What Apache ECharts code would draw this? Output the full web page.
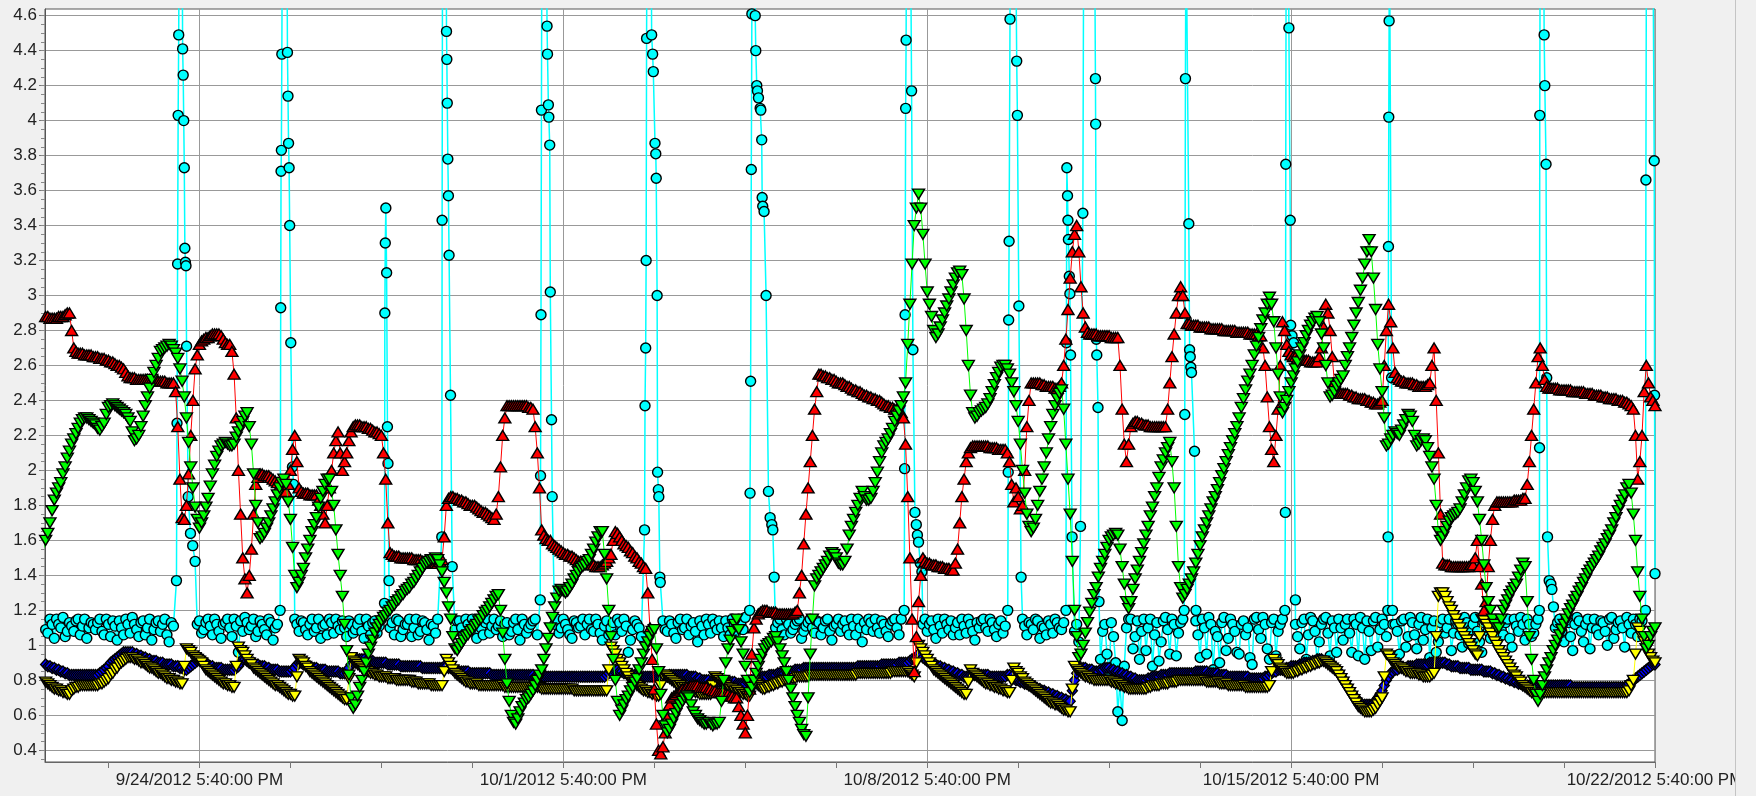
<!DOCTYPE html>
<html>
<head>
<meta charset="utf-8">
<script src="https://cdn.jsdelivr.net/npm/echarts@6/dist/echarts.min.js"></script>
<style>
  html, body { margin: 0; padding: 0; width: 1756px; height: 796px; overflow: hidden; background: #f0f0f0; }
  #chart { position: absolute; left: 0; top: 0; width: 1735px; height: 796px; border-right: 1px solid #c4c4c4; }
</style>
</head>
<body>
<div id="chart"></div>
<script>
// Hour 0 of the x axis is 9/24/2012 5:40 PM; readings are hourly from 9/21/2012 5:40 PM.
const BASE_TIME = Date.UTC(2012, 8, 24, 17, 40);
const FIRST_HOUR = -72;
const STEP_HOURS = 1;

const X_MIN = -71.3, X_MAX = 672;
const Y_MIN = 0.333, Y_MAX = 4.638;

const xLabelHours = [0, 168, 336, 504, 672];
const xTickHours = [-42, 0, 42, 84, 126, 168, 210, 252, 294, 336, 378, 420, 462, 504, 546, 588, 630, 672];
const yLabelValues = [0.4, 0.6, 0.8, 1, 1.2, 1.4, 1.6, 1.8, 2, 2.2, 2.4, 2.6, 2.8, 3, 3.2, 3.4, 3.6, 3.8, 4, 4.2, 4.4, 4.6];

// one row per day, 24 hourly readings each
const redValues = [
  2.88,2.88,2.88,2.87,2.87,2.87,2.87,2.88,2.88,2.88,2.89,2.9,2.9,2.8,2.7,2.68,2.67,2.67,2.67,2.66,2.66,2.66,2.66,2.65,
  2.65,2.65,2.64,2.64,2.64,2.63,2.63,2.62,2.62,2.61,2.6,2.6,2.59,2.58,2.56,2.54,2.53,2.53,2.53,2.52,2.52,2.52,2.52,2.52,
  2.52,2.52,2.52,2.52,2.52,2.51,2.51,2.51,2.51,2.5,2.5,2.5,2.5,2.45,2.25,1.95,1.73,1.72,1.8,1.98,2.2,2.4,2.58,2.66,
  2.72,2.74,2.75,2.76,2.76,2.77,2.78,2.78,2.78,2.78,2.77,2.75,2.73,2.72,2.72,2.68,2.55,2.3,2.0,1.75,1.5,1.38,1.3,1.4,
  1.55,1.75,1.92,1.96,1.98,1.98,1.97,1.97,1.97,1.96,1.95,1.94,1.93,1.91,1.9,1.89,1.88,1.92,2.0,2.12,2.2,2.05,1.9,1.88,
  1.87,1.87,1.87,1.86,1.86,1.86,1.86,1.83,1.8,1.75,1.7,1.8,1.9,2.0,2.1,2.17,2.22,2.1,2.0,2.05,2.1,2.17,2.22,2.25,
  2.26,2.26,2.26,2.25,2.25,2.25,2.24,2.24,2.23,2.22,2.22,2.21,2.2,2.1,1.95,1.7,1.53,1.52,1.51,1.51,1.51,1.5,1.5,1.5,
  1.5,1.5,1.5,1.49,1.49,1.49,1.49,1.48,1.48,1.48,1.47,1.47,1.47,1.47,1.47,1.48,1.49,1.62,1.8,1.84,1.85,1.85,1.84,1.84,
  1.83,1.83,1.82,1.82,1.81,1.8,1.8,1.8,1.79,1.78,1.77,1.76,1.76,1.75,1.74,1.73,1.72,1.75,1.85,2.02,2.2,2.3,2.37,2.37,
  2.37,2.37,2.37,2.37,2.37,2.37,2.37,2.37,2.36,2.36,2.35,2.25,2.1,1.9,1.66,1.63,1.61,1.6,1.6,1.58,1.57,1.56,1.55,1.54,
  1.53,1.52,1.52,1.51,1.51,1.5,1.49,1.48,1.48,1.47,1.47,1.47,1.47,1.46,1.46,1.45,1.45,1.45,1.46,1.47,1.48,1.5,1.52,1.6,
  1.65,1.64,1.62,1.6,1.58,1.57,1.56,1.54,1.53,1.51,1.5,1.48,1.47,1.45,1.44,1.3,1.1,0.92,0.75,0.55,0.4,0.38,0.42,0.5,
  0.6,0.66,0.7,0.71,0.72,0.73,0.74,0.75,0.75,0.76,0.76,0.77,0.77,0.77,0.77,0.76,0.76,0.76,0.76,0.75,0.75,0.74,0.74,0.73,
  0.73,0.73,0.73,0.72,0.72,0.71,0.71,0.7,0.7,0.65,0.6,0.55,0.5,0.6,0.75,0.95,1.1,1.15,1.18,1.19,1.2,1.2,1.2,1.19,
  1.19,1.19,1.19,1.18,1.18,1.18,1.18,1.18,1.18,1.18,1.18,1.19,1.2,1.3,1.4,1.58,1.75,1.9,2.05,2.2,2.35,2.45,2.55,2.55,
  2.54,2.54,2.53,2.53,2.52,2.52,2.51,2.5,2.5,2.5,2.49,2.48,2.48,2.47,2.46,2.46,2.45,2.45,2.44,2.43,2.43,2.42,2.42,2.41,
  2.41,2.4,2.4,2.39,2.38,2.37,2.37,2.36,2.36,2.35,2.35,2.34,2.33,2.3,2.15,1.85,1.5,1.15,0.85,1.05,1.25,1.4,1.5,1.48,
  1.47,1.47,1.46,1.46,1.46,1.45,1.45,1.45,1.44,1.44,1.44,1.43,1.43,1.47,1.55,1.7,1.85,1.95,2.05,2.1,2.13,2.14,2.14,2.14,
  2.14,2.14,2.14,2.14,2.14,2.13,2.13,2.13,2.13,2.12,2.12,2.12,2.12,2.1,2.05,1.92,1.82,1.9,1.85,1.78,1.8,2.0,2.25,2.4,
  2.5,2.5,2.5,2.5,2.5,2.49,2.49,2.48,2.48,2.48,2.48,2.47,2.47,2.48,2.5,2.6,2.75,2.92,3.1,3.25,3.35,3.4,3.25,3.05,
  2.9,2.82,2.79,2.78,2.78,2.78,2.78,2.77,2.77,2.77,2.77,2.77,2.77,2.76,2.76,2.76,2.76,2.6,2.35,2.15,2.05,2.15,2.25,2.27,
  2.28,2.28,2.27,2.27,2.26,2.26,2.26,2.25,2.25,2.25,2.25,2.25,2.25,2.25,2.25,2.35,2.5,2.65,2.78,2.9,3.0,3.05,3.0,2.9,
  2.84,2.84,2.83,2.83,2.83,2.83,2.82,2.82,2.82,2.82,2.82,2.81,2.81,2.81,2.81,2.81,2.81,2.8,2.8,2.8,2.8,2.8,2.8,2.79,
  2.79,2.79,2.79,2.79,2.79,2.78,2.78,2.78,2.78,2.77,2.77,2.7,2.6,2.42,2.25,2.12,2.05,2.2,2.35,2.6,2.85,2.8,2.72,2.68,
  2.66,2.65,2.65,2.64,2.64,2.63,2.63,2.63,2.63,2.62,2.62,2.62,2.62,2.65,2.7,2.82,2.95,2.9,2.8,2.65,2.5,2.46,2.45,2.44,
  2.44,2.44,2.44,2.43,2.43,2.42,2.42,2.41,2.41,2.41,2.41,2.4,2.4,2.39,2.39,2.38,2.38,2.39,2.4,2.6,2.8,2.95,2.85,2.7,
  2.56,2.53,2.52,2.51,2.51,2.5,2.5,2.5,2.5,2.49,2.49,2.48,2.48,2.48,2.48,2.49,2.5,2.6,2.7,2.4,2.1,1.75,1.47,1.46,
  1.46,1.46,1.45,1.45,1.45,1.45,1.45,1.45,1.45,1.45,1.45,1.46,1.46,1.5,1.6,1.45,1.35,1.2,1.25,1.45,1.6,1.72,1.8,1.82,
  1.82,1.82,1.82,1.82,1.82,1.82,1.82,1.83,1.83,1.83,1.83,1.84,1.84,1.92,2.05,2.2,2.35,2.5,2.65,2.7,2.6,2.52,2.48,2.47,
  2.47,2.47,2.47,2.47,2.46,2.46,2.46,2.46,2.46,2.46,2.45,2.45,2.45,2.45,2.45,2.45,2.44,2.44,2.44,2.44,2.43,2.43,2.43,2.43,
  2.42,2.42,2.42,2.41,2.41,2.41,2.41,2.4,2.4,2.4,2.39,2.39,2.38,2.37,2.35,2.2,1.95,2.05,2.2,2.45,2.6,2.5,2.42,2.4,
  2.37
];

const greenValues = [
  1.55,1.6,1.64,1.7,1.77,1.83,1.87,1.9,1.93,1.98,2.02,2.07,2.11,2.15,2.18,2.21,2.24,2.27,2.29,2.3,2.3,2.29,2.28,2.27,
  2.26,2.24,2.23,2.25,2.27,2.32,2.36,2.37,2.38,2.37,2.36,2.35,2.34,2.33,2.32,2.3,2.28,2.22,2.17,2.18,2.2,2.25,2.31,2.37,
  2.42,2.47,2.52,2.56,2.6,2.64,2.68,2.69,2.7,2.71,2.72,2.71,2.69,2.67,2.64,2.58,2.51,2.42,2.3,2.16,2.02,1.9,1.79,1.72,
  1.67,1.7,1.74,1.79,1.84,1.91,1.98,2.03,2.08,2.11,2.14,2.15,2.16,2.15,2.14,2.14,2.15,2.19,2.22,2.25,2.28,2.31,2.33,2.25,
  2.15,1.98,1.8,1.7,1.61,1.62,1.64,1.67,1.7,1.74,1.78,1.82,1.86,1.9,1.93,1.95,1.92,1.82,1.72,1.56,1.4,1.33,1.36,1.4,
  1.44,1.5,1.55,1.6,1.65,1.69,1.73,1.79,1.84,1.88,1.92,1.95,1.95,1.88,1.8,1.66,1.52,1.4,1.28,1.12,0.97,0.83,0.7,0.64,
  0.66,0.71,0.76,0.8,0.85,0.9,0.95,0.99,1.03,1.07,1.1,1.12,1.14,1.16,1.17,1.19,1.2,1.22,1.23,1.25,1.26,1.28,1.29,1.31,
  1.32,1.33,1.35,1.36,1.38,1.4,1.42,1.44,1.46,1.47,1.48,1.49,1.49,1.5,1.49,1.46,1.42,1.36,1.3,1.22,1.15,1.05,0.98,0.97,
  0.99,1.01,1.03,1.05,1.06,1.08,1.09,1.11,1.12,1.14,1.15,1.17,1.19,1.2,1.22,1.24,1.26,1.28,1.29,1.2,1.07,0.92,0.78,0.68,
  0.6,0.56,0.55,0.58,0.62,0.65,0.67,0.69,0.7,0.72,0.74,0.77,0.8,0.83,0.86,0.92,0.98,1.04,1.1,1.16,1.22,1.27,1.31,1.32,
  1.31,1.3,1.31,1.33,1.35,1.38,1.4,1.42,1.44,1.45,1.46,1.48,1.49,1.52,1.55,1.59,1.62,1.65,1.65,1.52,1.38,1.2,1.05,0.92,
  0.8,0.68,0.6,0.63,0.66,0.69,0.71,0.74,0.76,0.79,0.81,0.86,0.9,0.95,0.99,1.02,1.05,1.08,1.09,0.98,0.85,0.72,0.6,0.54,
  0.5,0.52,0.55,0.58,0.61,0.64,0.66,0.68,0.7,0.71,0.7,0.66,0.62,0.6,0.58,0.57,0.56,0.55,0.55,0.56,0.55,0.54,0.55,0.55,
  0.56,0.68,0.8,0.9,0.98,1.03,1.08,1.12,1.15,1.09,1.02,0.95,0.88,0.8,0.73,0.76,0.8,0.84,0.88,0.92,0.95,0.98,1.0,1.01,
  1.02,1.04,1.05,1.02,0.98,0.94,0.9,0.85,0.8,0.75,0.7,0.65,0.6,0.56,0.52,0.49,0.48,0.7,0.95,1.15,1.34,1.38,1.4,1.42,
  1.44,1.46,1.48,1.51,1.53,1.52,1.5,1.47,1.46,1.46,1.48,1.55,1.63,1.68,1.72,1.76,1.8,1.84,1.88,1.85,1.83,1.83,1.84,1.88,
  1.93,1.99,2.05,2.1,2.14,2.16,2.18,2.21,2.24,2.28,2.31,2.34,2.37,2.42,2.5,2.72,2.95,3.18,3.4,3.5,3.58,3.5,3.35,3.18,
  3.02,2.95,2.88,2.8,2.76,2.78,2.82,2.86,2.9,2.94,2.98,3.02,3.06,3.1,3.13,3.14,3.12,2.98,2.8,2.6,2.43,2.33,2.3,2.31,
  2.33,2.34,2.35,2.36,2.38,2.41,2.45,2.49,2.53,2.56,2.59,2.6,2.6,2.58,2.55,2.5,2.45,2.37,2.28,2.15,2.0,1.87,1.75,1.68,
  1.65,1.67,1.72,1.8,1.88,1.95,2.02,2.1,2.18,2.25,2.32,2.37,2.41,2.44,2.46,2.35,2.15,1.95,1.75,1.48,1.2,1.05,0.93,0.95,
  1.0,1.07,1.13,1.19,1.24,1.29,1.33,1.39,1.44,1.48,1.52,1.56,1.6,1.62,1.63,1.64,1.63,1.55,1.45,1.35,1.25,1.21,1.25,1.32,
  1.38,1.43,1.48,1.53,1.58,1.63,1.68,1.74,1.79,1.85,1.9,1.96,2.02,2.06,2.1,2.13,2.16,2.05,1.9,1.68,1.45,1.33,1.27,1.29,
  1.32,1.35,1.38,1.42,1.47,1.52,1.57,1.62,1.66,1.7,1.74,1.78,1.82,1.85,1.89,1.93,1.97,2.01,2.05,2.09,2.13,2.17,2.21,2.25,
  2.3,2.36,2.41,2.46,2.51,2.55,2.6,2.66,2.71,2.76,2.81,2.86,2.9,2.95,2.99,2.95,2.85,2.7,2.55,2.42,2.33,2.36,2.4,2.45,
  2.5,2.54,2.58,2.62,2.66,2.7,2.73,2.77,2.8,2.83,2.85,2.87,2.88,2.85,2.78,2.7,2.6,2.5,2.42,2.43,2.45,2.48,2.5,2.52,
  2.54,2.6,2.65,2.7,2.76,2.83,2.9,2.96,3.03,3.1,3.18,3.25,3.32,3.25,3.1,2.92,2.72,2.58,2.45,2.3,2.14,2.15,2.18,2.2,
  2.22,2.21,2.2,2.23,2.26,2.29,2.32,2.31,2.28,2.2,2.14,2.15,2.17,2.18,2.17,2.13,2.08,2.02,1.95,1.8,1.65,1.6,1.62,1.65,
  1.68,1.71,1.73,1.74,1.75,1.76,1.78,1.82,1.86,1.9,1.94,1.95,1.93,1.88,1.82,1.72,1.6,1.46,1.33,1.25,1.2,1.15,1.12,1.1,
  1.1,1.15,1.2,1.23,1.26,1.29,1.31,1.33,1.35,1.39,1.43,1.47,1.45,1.25,1.05,0.92,0.8,0.72,0.68,0.72,0.77,0.82,0.86,0.9,
  0.93,0.97,1.0,1.03,1.06,1.09,1.12,1.15,1.18,1.21,1.23,1.26,1.28,1.31,1.33,1.36,1.38,1.41,1.43,1.45,1.47,1.49,1.51,1.54,
  1.56,1.58,1.61,1.63,1.66,1.7,1.73,1.77,1.8,1.83,1.86,1.9,1.92,1.87,1.75,1.6,1.42,1.28,1.15,1.05,0.98,1.0,1.05,1.08,
  1.1
];

const blueValues = [
  0.89,0.89,0.88,0.88,0.87,0.87,0.86,0.86,0.85,0.85,0.84,0.84,0.83,0.83,0.83,0.83,0.83,0.83,0.83,0.83,0.83,0.83,0.83,0.83,
  0.83,0.83,0.84,0.85,0.86,0.87,0.88,0.9,0.91,0.92,0.93,0.94,0.95,0.96,0.96,0.96,0.96,0.96,0.95,0.95,0.94,0.94,0.93,0.93,
  0.92,0.92,0.91,0.91,0.91,0.9,0.9,0.9,0.89,0.89,0.89,0.89,0.88,0.88,0.88,0.87,0.87,0.86,0.86,0.87,0.88,0.89,0.9,0.91,
  0.92,0.92,0.91,0.9,0.89,0.88,0.88,0.87,0.87,0.87,0.87,0.86,0.86,0.86,0.86,0.86,0.86,0.87,0.88,0.9,0.92,0.92,0.91,0.9,
  0.9,0.9,0.89,0.89,0.88,0.88,0.88,0.87,0.87,0.86,0.86,0.86,0.86,0.85,0.85,0.85,0.85,0.85,0.85,0.86,0.87,0.89,0.9,0.9,
  0.89,0.89,0.88,0.88,0.87,0.87,0.87,0.86,0.86,0.86,0.86,0.85,0.85,0.85,0.85,0.85,0.85,0.84,0.84,0.84,0.85,0.87,0.89,0.9,
  0.91,0.92,0.92,0.92,0.92,0.91,0.91,0.91,0.91,0.9,0.9,0.9,0.9,0.9,0.9,0.89,0.89,0.89,0.89,0.89,0.89,0.88,0.88,0.88,
  0.88,0.88,0.88,0.88,0.88,0.88,0.88,0.87,0.87,0.87,0.87,0.87,0.87,0.87,0.87,0.87,0.87,0.88,0.88,0.87,0.87,0.86,0.86,0.85,
  0.85,0.85,0.85,0.85,0.85,0.84,0.84,0.84,0.84,0.84,0.84,0.84,0.84,0.84,0.84,0.83,0.83,0.83,0.83,0.83,0.83,0.83,0.83,0.83,
  0.83,0.83,0.83,0.83,0.83,0.83,0.83,0.83,0.83,0.83,0.83,0.82,0.82,0.82,0.82,0.82,0.82,0.82,0.82,0.82,0.82,0.82,0.82,0.82,
  0.82,0.82,0.82,0.82,0.82,0.82,0.82,0.82,0.82,0.82,0.82,0.82,0.82,0.82,0.82,0.82,0.82,0.82,0.82,0.82,0.83,0.84,0.85,0.86,
  0.86,0.86,0.85,0.85,0.84,0.84,0.83,0.83,0.83,0.83,0.83,0.83,0.82,0.82,0.82,0.82,0.82,0.82,0.82,0.82,0.82,0.82,0.82,0.82,
  0.82,0.83,0.83,0.83,0.83,0.83,0.83,0.83,0.83,0.83,0.82,0.82,0.82,0.82,0.81,0.81,0.8,0.8,0.8,0.8,0.79,0.79,0.79,0.79,
  0.79,0.79,0.79,0.79,0.79,0.79,0.79,0.79,0.78,0.78,0.78,0.78,0.78,0.79,0.79,0.8,0.8,0.81,0.81,0.82,0.82,0.82,0.82,0.83,
  0.83,0.83,0.83,0.84,0.84,0.84,0.84,0.85,0.85,0.85,0.85,0.86,0.86,0.86,0.86,0.87,0.87,0.87,0.87,0.87,0.87,0.87,0.87,0.87,
  0.87,0.87,0.87,0.87,0.87,0.87,0.87,0.87,0.87,0.87,0.87,0.87,0.87,0.87,0.87,0.87,0.88,0.88,0.88,0.88,0.88,0.88,0.88,0.88,
  0.88,0.88,0.88,0.89,0.89,0.89,0.89,0.89,0.89,0.89,0.89,0.9,0.9,0.9,0.9,0.9,0.91,0.92,0.92,0.93,0.95,0.94,0.93,0.92,
  0.91,0.9,0.9,0.89,0.89,0.88,0.88,0.87,0.87,0.86,0.86,0.85,0.85,0.84,0.84,0.83,0.83,0.82,0.82,0.82,0.83,0.83,0.83,0.83,
  0.83,0.83,0.83,0.83,0.83,0.82,0.82,0.82,0.82,0.82,0.82,0.82,0.82,0.83,0.83,0.82,0.81,0.8,0.8,0.79,0.79,0.78,0.78,0.77,
  0.77,0.76,0.76,0.75,0.75,0.74,0.74,0.73,0.73,0.72,0.72,0.71,0.71,0.7,0.7,0.69,0.69,0.68,0.68,0.74,0.8,0.84,0.86,0.87,
  0.87,0.87,0.86,0.86,0.86,0.85,0.85,0.85,0.86,0.86,0.87,0.87,0.87,0.86,0.86,0.85,0.85,0.84,0.84,0.83,0.83,0.82,0.82,0.81,
  0.81,0.8,0.8,0.8,0.8,0.8,0.81,0.81,0.82,0.82,0.82,0.82,0.83,0.83,0.83,0.83,0.84,0.84,0.84,0.84,0.84,0.84,0.84,0.84,
  0.84,0.84,0.84,0.84,0.85,0.85,0.85,0.85,0.85,0.85,0.84,0.84,0.84,0.84,0.84,0.83,0.83,0.83,0.83,0.82,0.82,0.82,0.82,0.82,
  0.82,0.82,0.82,0.82,0.82,0.81,0.81,0.81,0.81,0.81,0.81,0.81,0.82,0.82,0.83,0.84,0.85,0.85,0.86,0.86,0.86,0.86,0.87,0.87,
  0.88,0.88,0.88,0.88,0.89,0.89,0.9,0.9,0.9,0.9,0.91,0.91,0.92,0.92,0.92,0.91,0.91,0.9,0.9,0.89,0.88,0.86,0.85,0.83,
  0.81,0.79,0.77,0.75,0.73,0.71,0.7,0.68,0.67,0.66,0.66,0.66,0.66,0.66,0.67,0.68,0.7,0.72,0.74,0.77,0.8,0.82,0.84,0.85,
  0.86,0.86,0.87,0.87,0.87,0.87,0.88,0.88,0.88,0.88,0.89,0.89,0.89,0.89,0.89,0.89,0.9,0.9,0.9,0.9,0.9,0.9,0.9,0.9,
  0.89,0.89,0.88,0.88,0.88,0.88,0.87,0.87,0.87,0.87,0.87,0.86,0.86,0.86,0.86,0.86,0.86,0.85,0.85,0.85,0.85,0.84,0.84,0.83,
  0.83,0.82,0.82,0.81,0.81,0.8,0.8,0.79,0.79,0.78,0.78,0.77,0.77,0.77,0.77,0.76,0.76,0.76,0.76,0.76,0.76,0.76,0.77,0.77,
  0.77,0.77,0.77,0.77,0.77,0.77,0.77,0.77,0.77,0.77,0.76,0.76,0.76,0.76,0.76,0.76,0.76,0.76,0.76,0.76,0.76,0.76,0.76,0.76,
  0.76,0.76,0.76,0.76,0.76,0.76,0.76,0.76,0.76,0.76,0.76,0.77,0.78,0.79,0.8,0.81,0.82,0.83,0.84,0.85,0.86,0.87,0.88,0.89,
  0.89
];

const yellowValues = [
  0.8,0.79,0.78,0.77,0.76,0.75,0.75,0.74,0.74,0.73,0.73,0.72,0.72,0.74,0.75,0.76,0.76,0.77,0.77,0.77,0.77,0.77,0.77,0.77,
  0.77,0.77,0.78,0.78,0.79,0.8,0.81,0.83,0.84,0.86,0.87,0.89,0.9,0.91,0.92,0.93,0.93,0.93,0.92,0.92,0.91,0.9,0.9,0.89,
  0.88,0.87,0.87,0.86,0.85,0.84,0.84,0.83,0.82,0.81,0.81,0.8,0.8,0.79,0.79,0.78,0.78,0.88,0.98,0.97,0.96,0.94,0.93,0.92,
  0.91,0.9,0.88,0.86,0.85,0.84,0.83,0.82,0.81,0.8,0.79,0.78,0.78,0.77,0.77,0.76,0.76,0.88,0.99,0.97,0.96,0.94,0.92,0.9,
  0.89,0.87,0.86,0.85,0.84,0.83,0.82,0.81,0.8,0.79,0.78,0.77,0.77,0.76,0.75,0.74,0.73,0.72,0.72,0.71,0.71,0.82,0.92,0.91,
  0.9,0.88,0.87,0.85,0.84,0.83,0.82,0.81,0.8,0.79,0.78,0.77,0.76,0.75,0.74,0.73,0.72,0.71,0.7,0.69,0.69,0.81,0.93,0.91,
  0.9,0.89,0.88,0.87,0.86,0.85,0.85,0.84,0.84,0.83,0.83,0.82,0.82,0.82,0.82,0.81,0.81,0.81,0.81,0.8,0.8,0.8,0.8,0.8,
  0.8,0.8,0.79,0.79,0.79,0.78,0.78,0.78,0.78,0.78,0.78,0.77,0.77,0.77,0.77,0.77,0.77,0.85,0.92,0.9,0.88,0.86,0.84,0.83,
  0.82,0.81,0.8,0.79,0.79,0.78,0.78,0.78,0.78,0.77,0.77,0.77,0.77,0.77,0.77,0.77,0.77,0.77,0.77,0.77,0.77,0.76,0.76,0.76,
  0.76,0.76,0.76,0.76,0.76,0.76,0.76,0.76,0.76,0.76,0.76,0.76,0.76,0.76,0.75,0.75,0.75,0.75,0.75,0.75,0.75,0.75,0.75,0.75,
  0.75,0.75,0.75,0.75,0.75,0.74,0.74,0.74,0.74,0.74,0.74,0.74,0.74,0.74,0.74,0.74,0.74,0.74,0.74,0.74,0.74,0.86,0.99,0.97,
  0.95,0.92,0.9,0.88,0.86,0.84,0.82,0.8,0.79,0.78,0.77,0.76,0.75,0.74,0.74,0.73,0.73,0.72,0.72,0.71,0.71,0.77,0.83,0.83,
  0.82,0.81,0.8,0.79,0.78,0.77,0.77,0.76,0.76,0.75,0.75,0.74,0.74,0.73,0.73,0.72,0.72,0.72,0.72,0.72,0.72,0.77,0.82,0.81,
  0.8,0.79,0.78,0.77,0.76,0.75,0.75,0.74,0.74,0.73,0.73,0.72,0.72,0.71,0.71,0.76,0.8,0.78,0.77,0.76,0.75,0.75,0.76,0.76,
  0.77,0.77,0.78,0.78,0.79,0.79,0.8,0.8,0.81,0.81,0.81,0.81,0.82,0.82,0.82,0.82,0.82,0.82,0.83,0.83,0.83,0.83,0.83,0.83,
  0.83,0.83,0.83,0.83,0.83,0.83,0.83,0.83,0.83,0.83,0.83,0.83,0.83,0.83,0.83,0.83,0.84,0.84,0.84,0.84,0.84,0.84,0.84,0.84,
  0.84,0.84,0.84,0.84,0.84,0.84,0.84,0.84,0.85,0.85,0.85,0.85,0.85,0.85,0.85,0.85,0.84,0.83,0.82,0.9,1.0,0.98,0.96,0.94,
  0.92,0.9,0.88,0.86,0.85,0.84,0.83,0.82,0.81,0.8,0.79,0.78,0.77,0.76,0.75,0.74,0.73,0.72,0.72,0.79,0.86,0.84,0.83,0.82,
  0.81,0.8,0.79,0.78,0.78,0.77,0.77,0.76,0.76,0.75,0.75,0.74,0.74,0.73,0.73,0.8,0.87,0.85,0.84,0.82,0.81,0.79,0.78,0.77,
  0.76,0.75,0.74,0.73,0.72,0.71,0.7,0.69,0.68,0.67,0.67,0.66,0.66,0.65,0.64,0.63,0.63,0.62,0.62,0.75,0.88,0.86,0.85,0.84,
  0.83,0.82,0.82,0.81,0.81,0.8,0.8,0.8,0.8,0.8,0.8,0.8,0.8,0.79,0.79,0.78,0.78,0.77,0.77,0.76,0.76,0.75,0.75,0.75,
  0.75,0.75,0.75,0.75,0.75,0.75,0.76,0.76,0.77,0.77,0.77,0.77,0.78,0.78,0.78,0.78,0.79,0.79,0.79,0.79,0.8,0.8,0.8,0.8,
  0.8,0.8,0.8,0.8,0.8,0.8,0.8,0.8,0.8,0.79,0.79,0.79,0.79,0.79,0.79,0.78,0.78,0.78,0.78,0.77,0.77,0.77,0.77,0.77,
  0.77,0.77,0.77,0.76,0.76,0.76,0.76,0.76,0.76,0.76,0.76,0.76,0.76,0.76,0.77,0.85,0.92,0.9,0.89,0.87,0.86,0.85,0.84,0.84,
  0.84,0.84,0.85,0.85,0.86,0.86,0.87,0.87,0.88,0.88,0.89,0.89,0.9,0.9,0.91,0.91,0.9,0.89,0.88,0.87,0.86,0.85,0.83,0.81,
  0.79,0.77,0.75,0.73,0.71,0.69,0.67,0.65,0.64,0.63,0.62,0.62,0.62,0.62,0.63,0.64,0.66,0.68,0.7,0.82,0.95,0.94,0.92,0.9,
  0.89,0.88,0.87,0.87,0.86,0.85,0.85,0.84,0.84,0.84,0.84,0.83,0.83,0.82,0.82,0.82,0.82,0.83,0.84,1.05,1.28,1.3,1.3,1.28,
  1.25,1.22,1.2,1.17,1.15,1.12,1.1,1.07,1.05,1.03,1.01,0.99,0.97,0.95,0.94,1.05,1.15,1.14,1.12,1.1,1.07,1.05,1.02,1.0,
  0.97,0.95,0.93,0.91,0.89,0.87,0.85,0.83,0.82,0.8,0.79,0.77,0.76,0.75,0.74,0.73,0.73,0.73,0.73,0.73,0.73,0.73,0.73,0.73,
  0.73,0.73,0.73,0.73,0.73,0.73,0.73,0.73,0.73,0.73,0.73,0.73,0.73,0.73,0.73,0.73,0.73,0.73,0.73,0.73,0.73,0.73,0.73,0.73,
  0.73,0.73,0.73,0.73,0.73,0.73,0.73,0.73,0.73,0.73,0.73,0.73,0.74,0.77,0.8,0.95,1.1,1.08,1.05,1.02,0.98,0.95,0.93,0.91,
  0.9
];

// null where the faster burst readings below cover that stretch
const cyanValues = [
  1.14,1.09,1.07,1.15,1.12,1.04,1.15,1.12,1.10,1.16,1.05,1.08,1.13,1.11,1.08,1.14,1.15,1.06,1.11,1.15,1.04,1.10,1.13,1.12,
  1.09,1.13,1.15,1.08,1.06,1.15,1.12,1.05,1.14,1.11,1.03,1.14,1.10,1.06,1.15,1.12,1.07,1.16,1.12,1.09,1.05,1.13,1.14,1.06,
  1.10,1.15,1.03,1.09,1.13,1.14,1.08,1.12,1.15,1.06,1.02,1.13,1.11,null,null,null,null,null,null,null,null,null,1.48,1.12,
  1.14,1.07,1.09,1.13,1.15,1.11,1.06,1.15,1.12,1.08,1.04,1.12,1.13,1.15,1.10,1.05,1.15,1.11,0.96,1.14,1.08,1.16,1.13,1.09,
  1.11,1.15,1.05,1.08,1.14,1.12,1.09,1.06,1.15,1.13,1.03,1.10,1.12,null,null,null,null,null,null,null,1.15,1.12,1.08,1.14,
  1.13,1.09,1.06,1.12,1.15,1.08,1.10,1.15,1.04,1.11,1.12,1.06,1.15,1.13,1.07,1.15,1.11,1.09,1.14,1.10,1.05,1.14,1.12,1.07,
  1.09,1.12,1.15,1.08,1.04,1.15,1.11,1.06,1.13,1.14,1.07,1.11,1.15,null,null,null,1.10,1.13,1.06,1.15,1.14,1.05,1.09,1.12,
  1.12,1.15,1.05,1.10,1.15,1.06,1.08,1.14,1.13,1.09,1.03,1.12,1.11,1.07,1.15,null,null,null,null,null,null,null,1.09,1.14,
  1.14,1.10,1.06,1.15,1.12,1.08,1.15,1.12,1.04,1.14,1.10,1.06,1.13,1.15,1.07,1.11,1.15,1.09,1.11,1.14,1.05,1.12,1.13,1.06,
  1.08,1.13,1.15,1.09,1.03,1.15,1.12,1.07,1.10,1.12,1.14,1.15,1.06,null,null,null,null,null,null,null,1.12,1.15,1.07,1.10,
  1.15,1.12,1.09,1.06,1.04,1.14,1.13,1.10,1.11,1.15,1.06,1.12,1.15,1.09,1.08,1.15,1.12,1.07,1.03,1.11,1.14,1.06,1.10,1.13,
  1.06,1.15,1.13,1.08,1.15,1.11,0.96,1.03,1.09,1.14,1.12,1.10,1.05,null,null,null,null,null,null,null,null,null,1.14,1.09,
  1.08,1.14,1.12,1.07,1.04,1.13,1.15,1.09,1.10,1.15,1.06,1.11,1.13,1.08,1.02,1.14,1.11,1.06,1.15,1.12,1.07,1.15,1.12,1.09,
  1.14,1.10,1.05,1.14,1.10,1.06,1.15,1.12,1.08,1.15,1.12,1.09,1.16,null,null,null,null,null,null,null,null,null,null,null,
  null,null,1.10,1.13,1.15,1.09,1.06,1.15,1.12,1.07,1.09,1.12,1.14,1.15,1.04,1.08,1.11,1.13,1.15,1.10,1.07,1.14,1.13,1.06,
  1.10,1.14,1.15,1.08,1.03,1.11,1.12,1.15,1.08,1.12,1.14,1.09,1.06,1.15,1.11,1.06,1.15,1.10,1.02,1.13,1.09,1.15,1.13,1.08,
  1.15,1.10,1.07,1.14,1.12,1.08,1.05,1.12,1.14,1.15,1.10,1.06,1.15,null,null,null,null,null,null,null,null,null,1.12,1.15,
  1.08,1.12,1.14,1.09,1.04,1.15,1.11,1.07,1.15,1.12,1.09,1.14,1.06,1.10,1.13,1.06,1.15,1.11,1.07,1.15,1.12,1.08,1.03,1.13,
  1.10,1.14,1.15,1.10,1.08,1.15,1.13,1.09,1.05,1.12,1.14,1.07,1.11,null,null,null,null,null,null,null,1.15,1.11,1.06,1.13,
  1.12,1.09,1.15,1.14,1.04,1.11,1.10,1.06,1.14,1.12,1.07,1.15,1.13,1.10,1.09,1.13,null,null,null,null,1.08,1.12,1.02,null,
  null,null,null,null,null,null,null,null,0.92,1.08,1.12,0.95,0.85,1.13,1.05,0.90,0.62,0.78,0.57,0.88,1.10,1.15,1.15,0.98,
  1.05,1.14,0.92,1.08,1.15,0.97,1.10,1.15,0.88,1.06,1.13,0.91,1.02,1.14,1.16,1.09,0.95,1.15,1.12,0.94,1.07,1.13,1.15,null,
  null,null,null,null,1.14,1.06,0.93,1.15,1.10,0.95,1.16,1.12,0.86,1.08,1.05,0.90,1.13,1.16,0.97,1.04,1.15,1.12,1.08,0.96,
  0.95,1.12,1.14,1.06,1.10,0.93,0.89,1.15,1.16,1.09,1.04,1.16,1.12,0.98,0.92,1.13,1.15,0.94,1.08,1.12,1.15,null,null,null,
  null,null,1.12,1.05,0.98,1.13,1.15,0.92,1.06,1.16,1.14,1.08,0.90,1.02,1.12,1.15,1.16,1.07,0.94,1.14,1.10,0.96,1.15,1.10,
  1.03,1.12,1.15,1.07,0.96,1.15,1.12,0.94,1.16,1.10,0.92,1.14,1.08,0.97,1.14,1.16,0.99,1.09,1.15,1.12,1.05,null,null,1.12,
  1.12,1.08,0.95,1.14,1.15,0.99,1.05,1.16,1.13,1.06,0.98,1.12,1.16,1.03,1.09,1.15,0.93,1.10,1.14,0.96,1.02,1.13,1.15,1.07,
  1.10,1.15,0.97,1.07,1.14,1.12,1.06,0.99,1.16,1.13,1.01,1.09,1.12,1.16,1.08,1.02,0.96,1.13,1.15,1.08,1.04,1.15,1.12,1.06,
  1.14,1.09,1.06,1.13,1.15,1.04,0.99,1.15,1.11,1.08,1.16,1.12,1.03,1.15,1.12,1.05,1.07,1.12,1.15,null,null,null,null,null,
  null,null,1.10,1.13,1.15,1.08,1.02,1.15,1.13,1.05,0.97,1.12,1.16,1.14,1.08,1.02,1.12,1.15,0.98,1.10,1.15,1.09,1.06,1.14,
  1.13,1.08,1.00,1.15,1.16,1.04,1.09,1.13,1.14,1.10,0.99,1.16,1.12,1.07,1.15,1.12,1.05,1.15,1.14,null,null,null,null,null,
  null
];

// short bursts of readings (hour, value); 5.2 lies above the plotted range
const cyanBurstHours = [
  -10.61,-10.35,-10.09,-9.83,-9.57,-9.32,-8.02,-7.76,-7.5,-7.25,-6.99,-6.73,-6.47,-6.21,-5.95,-5.18,-4.14,-3.1,
  37.26,37.52,37.68,37.83,38.04,38.3,40.37,40.63,40.88,41.14,41.4,41.66,42.18,42.95,43.47,
  85.44,85.6,85.8,86.06,86.42,86.79,87.05,87.51,
  111.89,112.04,112.25,113.91,114.06,114.22,114.42,114.68,114.94,115.25,115.92,116.7,
  157.33,157.48,157.69,157.9,158.1,160.17,160.48,160.69,161.1,161.31,161.72,161.98,162.55,162.86,
  205.5,205.71,206.02,206.23,206.44,206.64,208.51,208.77,209.23,209.54,210.32,210.68,210.89,211.3,211.51,211.87,212.08,212.55,212.76,
  254.0,254.2,254.47,254.78,255.04,255.3,256.33,256.59,256.85,257.31,257.62,258.09,258.87,259.18,259.59,259.8,260.06,260.68,261.61,262.7,263.48,264.25,264.72,265.34,
  325.36,325.57,325.78,326.04,326.25,326.45,328.26,328.78,329.4,330.33,330.96,331.47,331.99,332.77,333.54,
  373.18,373.39,373.6,373.8,374.22,374.43,376.75,377.32,377.63,378.31,379.34,
  400.04,400.25,400.46,400.77,400.97,401.18,401.6,401.86,402.17,402.89,406.77,407.86,408.27,413.24,413.66,413.76,414.07,414.28,414.85,415.31,
  454.64,454.9,455.21,455.47,456.3,456.77,457.13,457.44,457.7,458.01,459.41,460.08,
  501.12,501.33,501.53,501.74,502.67,502.98,503.6,503.81,504.43,505.16,505.98,
  548.63,548.78,548.94,549.09,549.25,549.4,550.08,550.39,550.8,
  618.59,618.69,618.8,619.0,620.56,620.82,621.13,621.7,622.01,622.38,623.15,623.93,624.4,625.12,
  667.6,667.8,668.07,670.97,671.64,671.8,672.0
];
const cyanBurstValues = [
  1.37,2.27,3.18,4.03,4.49,5.2,5.2,4.41,4.26,4.0,3.73,3.27,3.19,3.17,2.71,1.85,1.64,1.57,
  1.2,2.93,3.71,3.83,4.38,5.2,5.2,4.39,4.14,3.87,3.73,3.4,2.73,2.02,1.92,
  1.24,2.9,3.3,3.5,3.13,2.25,2.04,1.37,
  1.62,3.43,5.2,5.2,4.51,4.35,4.1,3.78,3.57,3.23,2.43,1.45,
  1.26,1.97,2.89,4.06,5.2,5.2,4.54,4.38,4.09,4.02,3.86,3.02,2.29,1.85,
  1.66,2.37,2.7,3.2,4.47,5.2,5.2,4.49,4.38,4.28,3.87,3.81,3.67,3.0,1.99,1.89,1.85,1.39,1.36,
  1.2,1.87,2.51,3.72,4.61,5.2,5.2,4.6,4.4,4.2,4.17,4.13,4.07,4.06,3.89,3.56,3.51,3.48,3.0,1.88,1.73,1.69,1.66,1.39,
  1.2,2.01,2.89,4.07,4.46,5.2,5.2,4.17,2.69,1.76,1.69,1.63,1.59,1.47,1.42,
  1.2,1.99,2.86,3.31,4.58,5.2,5.2,4.34,4.03,2.94,1.39,
  1.2,2.73,3.73,3.57,3.43,3.32,3.11,3.01,2.66,1.62,1.68,3.47,5.2,5.2,4.24,3.98,2.75,2.66,2.36,1.25,
  1.2,2.32,4.24,5.2,5.2,3.41,2.69,2.65,2.59,2.56,2.11,1.2,
  1.2,1.76,3.75,5.2,5.2,4.53,3.43,2.83,2.77,2.73,1.26,
  1.2,1.62,3.28,4.02,4.57,5.2,5.2,2.53,1.2,
  1.2,2.13,4.03,5.2,5.2,4.49,4.2,3.75,2.53,1.62,1.37,1.35,1.32,1.22,
  1.2,3.66,5.2,5.2,3.77,2.43,1.41
];

function onGrid(values) {
  return values.map((v, i) => [FIRST_HOUR + i * STEP_HOURS, v]);
}
function cyanData() {
  const pts = [];
  cyanValues.forEach((v, i) => { if (v !== null) pts.push([FIRST_HOUR + i * STEP_HOURS, v]); });
  cyanBurstHours.forEach((h, i) => pts.push([h, cyanBurstValues[i]]));
  pts.sort((a, b) => a[0] - b[0]);
  return pts;
}

const yMinorTicks = [];
for (let k = 7; k <= 92; k++) yMinorTicks.push(Math.round(k * 5) / 100);

function formatStamp(h) {
  const d = new Date(BASE_TIME + h * 3600000);
  let hr = d.getUTCHours();
  const ap = hr >= 12 ? 'PM' : 'AM';
  hr = hr % 12; if (hr === 0) hr = 12;
  const mm = String(d.getUTCMinutes()).padStart(2, '0');
  const ss = String(d.getUTCSeconds()).padStart(2, '0');
  return (d.getUTCMonth() + 1) + '/' + d.getUTCDate() + '/' + d.getUTCFullYear() + ' ' + hr + ':' + mm + ':' + ss + ' ' + ap;
}

function series(name, data, color, symbol, size, rotate, z, lineWidth) {
  return {
    name, type: 'line', data, z,
    symbol, symbolSize: size, symbolRotate: rotate,
    showSymbol: true, clip: true, silent: true,
    lineStyle: { color, width: lineWidth },
    itemStyle: { color, borderColor: '#000', borderWidth: 1.4 },
    emphasis: { disabled: true },
    animation: false
  };
}

const FONT = 'Liberation Sans, Arial, sans-serif';
const chart = echarts.init(document.getElementById('chart'), null, { renderer: 'canvas' });
chart.setOption({
  animation: false,
  backgroundColor: '#f0f0f0',
  grid: { left: 45, right: 80, top: 9, bottom: 34, show: true, backgroundColor: '#ffffff', borderColor: '#555', borderWidth: 1, outerBoundsMode: 'none' },
  xAxis: [
    {
      type: 'value', min: X_MIN, max: X_MAX, position: 'bottom',
      axisLine: { show: true, onZero: false, lineStyle: { color: '#666', width: 1 } },
      axisTick: { show: true, customValues: xLabelHours, length: 6, lineStyle: { color: '#777' } },
      axisLabel: { customValues: xLabelHours, formatter: formatStamp, color: '#222', fontSize: 17, fontFamily: FONT, margin: 10, hideOverlap: false },
      splitLine: { show: true, lineStyle: { color: '#999', width: 1 } }
    },
    {
      type: 'value', min: X_MIN, max: X_MAX, position: 'bottom',
      axisLine: { show: false, onZero: false },
      axisTick: { show: true, customValues: xTickHours, length: 6, lineStyle: { color: '#777' } },
      axisLabel: { show: false },
      splitLine: { show: false }
    }
  ],
  yAxis: [
    {
      type: 'value', min: Y_MIN, max: Y_MAX, position: 'left',
      axisLine: { show: true, onZero: false, lineStyle: { color: '#555', width: 1 } },
      axisTick: { show: true, customValues: yLabelValues, length: 6, lineStyle: { color: '#777' } },
      axisLabel: { customValues: yLabelValues, color: '#222', fontSize: 17, fontFamily: FONT, margin: 8 },
      splitLine: { show: true, lineStyle: { color: '#999', width: 1 } }
    },
    {
      type: 'value', min: Y_MIN, max: Y_MAX, position: 'left',
      axisLine: { show: false, onZero: false },
      axisTick: { show: true, customValues: yMinorTicks, length: 4, lineStyle: { color: '#888' } },
      axisLabel: { show: false },
      splitLine: { show: false }
    }
  ],
  series: [
    series('cyan', cyanData(), '#00ffff', 'circle', 10, 0, 2, 1.5),
    series('blue', onGrid(blueValues), '#0000ff', 'diamond', [10, 11], 0, 3, 1),
    series('yellow', onGrid(yellowValues), '#ffff00', 'triangle', [12, 10], 180, 4, 1),
    series('red', onGrid(redValues), '#ff0000', 'triangle', [12, 10], 0, 5, 1),
    series('green', onGrid(greenValues), '#00ff00', 'triangle', [12, 10], 180, 6, 1)
  ]
});
</script>
</body>
</html>
